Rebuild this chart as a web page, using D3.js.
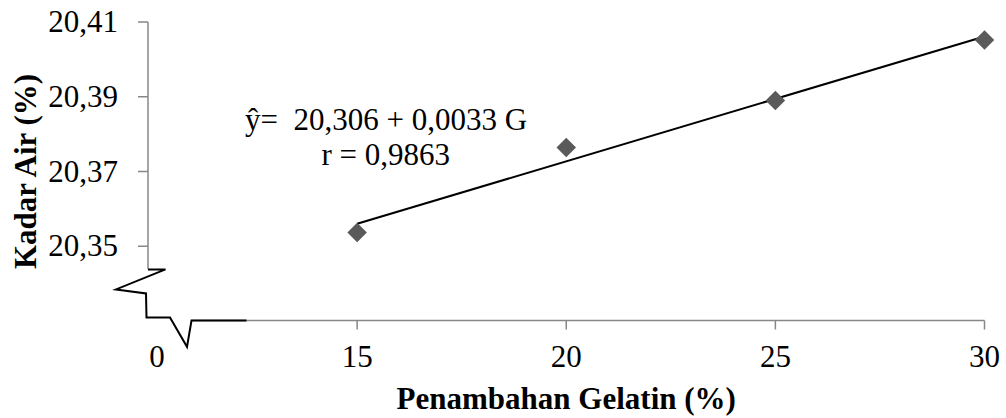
<!DOCTYPE html>
<html>
<head>
<meta charset="utf-8">
<script src="https://cdn.jsdelivr.net/npm/d3@7"></script>
<style>
  body { margin: 0; background: #fff; }
  text { font-family: "Liberation Serif", "Times New Roman", serif; fill: #000; }
</style>
</head>
<body>
<div id="chart"></div>
<script>
//************* data ***************/
var gelatin = [15, 20, 25, 30];
var kadarAir = [20.3537, 20.3764, 20.3890, 20.4052];
var yTicks = [20.35, 20.37, 20.39, 20.41];
var xTicks = [15, 20, 25, 30];
var xZeroLabel = "0";
var eqText = "ŷ=  20,306 + 0,0033 G";
var rText = "r = 0,9863";

//************* set dimensions ***************/
var W = 1006, H = 418;
var x = d3.scaleLinear().domain([10, 30]).range([148, 984.5]);
var y = d3.scaleLinear().domain([20.33, 20.41]).range([321, 22]);
var fmt = function(d) { return d3.format(".2f")(d).replace(".", ","); };

var svg = d3.select("#chart").append("svg")
  .attr("width", W)
  .attr("height", H);

var axisColor = "#878787";
var x0 = x(10), y0 = y(20.33);

//************* Y axis ***************/
svg.append("line")
  .attr("x1", x0).attr("x2", x0)
  .attr("y1", y(20.41)).attr("y2", y0 - 52)
  .attr("stroke", axisColor).attr("stroke-width", 1.5);

svg.selectAll(".ytick").data(yTicks).enter().append("line")
  .attr("x1", x0 - 10).attr("x2", x0)
  .attr("y1", d => y(d)).attr("y2", d => y(d))
  .attr("stroke", axisColor).attr("stroke-width", 1.5);

svg.selectAll(".ylab").data(yTicks).enter().append("text")
  .attr("x", x0 - 30).attr("y", d => y(d)).attr("dy", "0.33em")
  .attr("text-anchor", "end")
  .style("font-size", "31px")
  .text(fmt);

//************* X axis ***************/
svg.append("line")
  .attr("x1", x0 + 43.5).attr("x2", x(30))
  .attr("y1", y0 - 0.5).attr("y2", y0 - 0.5)
  .attr("stroke", axisColor).attr("stroke-width", 1.5);

svg.selectAll(".xtick").data(xTicks).enter().append("line")
  .attr("x1", d => x(d)).attr("x2", d => x(d))
  .attr("y1", y0 - 0.5).attr("y2", y0 + 8.5)
  .attr("stroke", axisColor).attr("stroke-width", 1.5);

svg.selectAll(".xlab").data(xTicks).enter().append("text")
  .attr("x", d => x(d)).attr("y", y0 + 46)
  .attr("text-anchor", "middle")
  .style("font-size", "31px")
  .text(d => d);

svg.append("text")
  .attr("x", x0 + 9).attr("y", y0 + 46)
  .attr("text-anchor", "middle")
  .style("font-size", "31px")
  .text(xZeroLabel);

//************* axis break ***************/
var brk = [[0, -51.6], [17.5, -51.6], [-32, -31.6], [-2, -27.6], [-1.5, -3.6],
           [22, -3.6], [39, 25.8], [43.5, -0.5], [98.5, -0.5]];
svg.append("path")
  .attr("d", d3.line()(brk.map(p => [x0 + p[0], y0 + p[1]])))
  .attr("fill", "none")
  .attr("stroke", "#000")
  .attr("stroke-width", 2)
  .attr("stroke-linejoin", "miter");

//************* axis titles ***************/
svg.append("text")
  .attr("x", (x(10) + x(30)) / 2).attr("y", 409)
  .attr("text-anchor", "middle")
  .style("font-size", "31px").style("font-weight", "bold")
  .text("Penambahan Gelatin (%)");

svg.append("text")
  .attr("transform", "translate(36," + ((y(20.41) + y0) / 2) + ") rotate(-90)")
  .attr("text-anchor", "middle")
  .style("font-size", "31px").style("font-weight", "bold")
  .text("Kadar Air (%)");

//************* trend line (least squares) ***************/
var mx = d3.mean(gelatin), my = d3.mean(kadarAir);
var sxy = d3.sum(gelatin, (g, i) => (g - mx) * (kadarAir[i] - my));
var sxx = d3.sum(gelatin, g => (g - mx) * (g - mx));
var slope = sxy / sxx, icpt = my - slope * mx;
var gMin = d3.min(gelatin), gMax = d3.max(gelatin);

svg.append("line")
  .attr("x1", x(gMin)).attr("y1", y(icpt + slope * gMin))
  .attr("x2", x(gMax)).attr("y2", y(icpt + slope * gMax))
  .attr("stroke", "#000").attr("stroke-width", 2);

//************* points ***************/
svg.selectAll(".pt").data(gelatin).enter().append("path")
  .attr("d", d3.symbol().type(d3.symbolSquare).size(190))
  .attr("transform", (g, i) => "translate(" + x(g) + "," + y(kadarAir[i]) + ") rotate(45)")
  .attr("fill", "#5a5a5a");

//************* equation ***************/
svg.append("text")
  .attr("x", 245).attr("y", 129.5)
  .style("font-size", "31px").style("white-space", "pre")
  .text(eqText);

svg.append("text")
  .attr("x", 321.5).attr("y", 165)
  .style("font-size", "31px")
  .text(rText);
</script>
</body>
</html>
